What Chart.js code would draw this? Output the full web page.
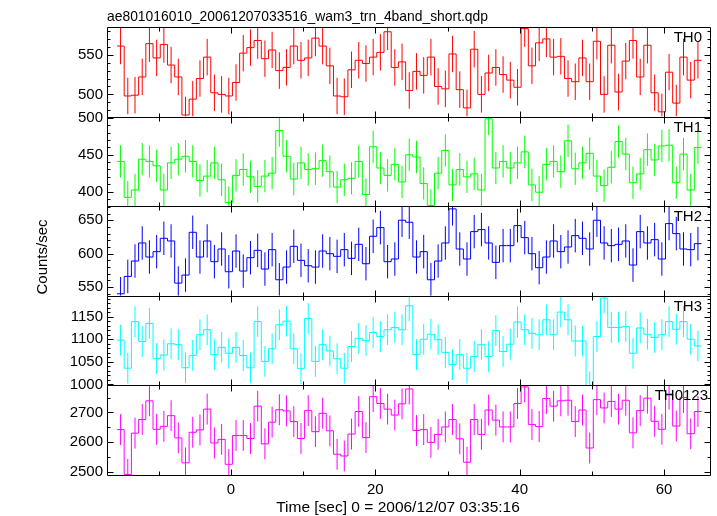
<!DOCTYPE html>
<html>
<head>
<meta charset="utf-8">
<title>ae801016010 WAM light curve</title>
<script src="https://cdn.jsdelivr.net/npm/chart.js@4.4.1/dist/chart.umd.min.js"></script>
<style>
  html, body { margin: 0; padding: 0; background: #fff; }
  #wrap { width: 717px; height: 516px; }
</style>
</head>
<body>
<div id="wrap"><canvas id="lcChart" width="717" height="516"></canvas></div>
<script>
// Light curve data (1 sec bins)

// bin start times [sec]
const binStarts = [-15.8,-14.8,-13.8,-12.8,-11.8,-10.8,-9.8,-8.8,-7.8,-6.8,-5.8,-4.8,-3.8,-2.8,-1.8,-0.8,
  0.2,1.2,2.2,3.2,4.2,5.2,6.2,7.2,8.2,9.2,10.2,11.2,12.2,13.2,14.2,15.2,16.2,17.2,18.2,19.2,
  20.2,21.2,22.2,23.2,24.2,25.2,26.2,27.2,28.2,29.2,30.2,31.2,32.2,33.2,34.2,35.2,36.2,37.2,38.2,39.2,
  40.2,41.2,42.2,43.2,44.2,45.2,46.2,47.2,48.2,49.2,50.2,51.2,52.2,53.2,54.2,55.2,56.2,57.2,58.2,59.2,
  60.2,61.2,62.2,63.2,64.2];
const binWidth = 1.0;

// counts/sec per band
const th0Rate = [561,498,499,522,564,546,563,537,522,474,494,520,547,502,500,498,515,552,559,568,
  545,556,530,534,561,543,546,571,561,536,498,497,531,543,539,547,553,579,534,541,
  505,529,524,547,510,507,551,506,483,557,500,527,534,525,518,509,583,536,565,570,
  547,548,520,516,546,516,567,500,562,503,542,568,522,562,502,478,528,489,547,518,543];
const th1Rate = [441,392,402,444,441,435,402,439,444,448,441,415,421,439,416,385,422,430,420,407,
  421,425,483,448,417,439,430,431,442,427,406,416,418,441,396,461,432,422,437,413,
  450,447,411,381,425,456,409,430,420,424,402,499,432,441,432,439,454,409,399,437,
  441,427,469,431,439,452,421,408,433,468,451,412,424,457,443,462,463,412,451,402,460];
const th2Rate = [540,566,589,616,595,603,623,619,556,568,632,595,619,588,607,573,604,574,594,605,
  577,606,561,580,611,590,582,580,604,600,596,606,593,614,585,626,639,588,592,650,
  647,595,603,561,589,616,667,607,592,633,636,616,587,612,612,642,624,600,579,595,
  619,603,610,627,623,607,650,616,612,614,619,583,633,616,621,592,645,630,607,606,615];
const th3Rate = [1098,1036,1139,1095,1135,1057,1065,1090,1088,1037,1064,1110,1121,1066,1082,1069,1082,1064,1037,1139,
  1051,1079,1132,1140,1079,1035,1146,1051,1088,1074,1057,1036,1084,1102,1097,1115,1106,1121,1126,1121,
  1174,1066,1100,1111,1099,1071,1044,1066,1036,1062,1088,1062,1119,1073,1089,1138,1121,1113,1110,1143,
  1110,1160,1143,1096,1096,995,1106,1191,1126,1126,1128,1069,1125,1111,1104,1110,1139,1122,1139,1100,1085];
const th0123Rate = [2642,2491,2630,2676,2739,2643,2653,2689,2614,2530,2633,2641,2711,2597,2609,2525,2622,2622,2612,2721,
  2594,2667,2709,2705,2669,2612,2706,2635,2697,2638,2559,2553,2627,2703,2615,2753,2730,2711,2691,2729,
  2779,2639,2642,2599,2626,2651,2676,2611,2532,2676,2626,2708,2674,2651,2651,2730,2786,2659,2652,2747,
  2721,2739,2741,2669,2708,2580,2743,2715,2737,2711,2741,2631,2706,2748,2670,2643,2762,2654,2750,2628,2703];

// typical 1-sigma error bar half length per band
const th0Err = 23;
const th1Err = 22;
const th2Err = 25;
const th3Err = 34;
const th0123Err = 52;

// tick labels
const xTickLabels = [0, 20, 40, 60];
const xTickMarks = [-10, 0, 10, 20, 30, 40, 50, 60];
const th0Ticks = [500, 550];
const th1Ticks = [400, 450, 500];
const th2Ticks = [550, 600, 650];
const th3Ticks = [1000, 1050, 1100, 1150];
const th0123Ticks = [2500, 2600, 2700];

const FONT = '"Liberation Sans", Arial, Helvetica, sans-serif';

// bottom panel first: stacked axes are placed bottom -> top
const panels = [
  { id: 'y4', label: 'TH0123', rate: th0123Rate, err: th0123Err, ticks: th0123Ticks, color: '#ff00ff', min: 2489, max: 2791, minor: 50, labelRight: 708 },
  { id: 'y3', label: 'TH3', rate: th3Rate, err: th3Err, ticks: th3Ticks, color: '#00ffff', min: 998, max: 1196, minor: 10, labelRight: 702 },
  { id: 'y2', label: 'TH2', rate: th2Rate, err: th2Err, ticks: th2Ticks, color: '#0000ff', min: 537, max: 671, minor: 10, labelRight: 702 },
  { id: 'y1', label: 'TH1', rate: th1Rate, err: th1Err, ticks: th1Ticks, color: '#00ff00', min: 380, max: 502, minor: 10, labelRight: 702 },
  { id: 'y0', label: 'TH0', rate: th0Rate, err: th0Err, ticks: th0Ticks, color: '#ff0000', min: 472, max: 585, minor: 10, labelRight: 702 }
];

function stepPoints(values) {
  const pts = binStarts.map((t, i) => ({ x: t, y: values[i] }));
  pts.push({ x: binStarts[binStarts.length - 1] + binWidth, y: values[values.length - 1] });
  return pts;
}

function errorPoints(values, err) {
  const pts = [];
  binStarts.forEach((t, i) => {
    const c = t + binWidth / 2;
    pts.push({ x: c, y: values[i] - err }, { x: c, y: values[i] + err }, { x: c, y: null });
  });
  return pts;
}

const datasets = [];
const scales = {
  x: {
    type: 'linear',
    position: 'bottom',
    min: -17.18,
    max: 66.37,
    afterBuildTicks: s => { s.ticks = xTickLabels.map(v => ({ value: v })); },
    afterFit: s => { s.height = 41; },
    grid: { display: false, drawTicks: false },
    border: { display: false },
    ticks: { color: '#000', font: { family: FONT, size: 15 }, padding: 6, maxRotation: 0, autoSkip: false,
             callback: v => String(v) },
    title: { display: false }
  }
};

panels.forEach(p => {
  datasets.push({
    label: p.label,
    data: stepPoints(p.rate),
    yAxisID: p.id,
    stepped: true,
    borderColor: p.color,
    borderWidth: 1,
    pointRadius: 0,
    fill: false
  });
  datasets.push({
    label: p.label + ' err',
    data: errorPoints(p.rate, p.err),
    yAxisID: p.id,
    borderColor: p.color,
    borderWidth: 1,
    pointRadius: 0,
    spanGaps: false,
    fill: false
  });
  scales[p.id] = {
    type: 'linear',
    position: 'left',
    stack: 'bands',
    stackWeight: 1,
    min: p.min,
    max: p.max,
    afterBuildTicks: s => { s.ticks = p.ticks.map(v => ({ value: v })); },
    afterFit: s => { s.width = 107; },
    grid: { display: false, drawTicks: false },
    border: { display: false },
    ticks: { color: '#000', font: { family: FONT, size: 15 }, padding: 4, autoSkip: false,
             callback: v => String(v) }
  };
});

// qdp style frame: boxed panels, inward ticks, band labels, titles
const qdpFrame = {
  id: 'qdpFrame',
  beforeDatasetDraw(chart, args) {
    const area = chart.chartArea;
    const ys = args.meta.yScale;
    const ctx = chart.ctx;
    ctx.save();
    ctx.beginPath();
    ctx.rect(area.left, ys.top, area.right - area.left, ys.bottom - ys.top);
    ctx.clip();
  },
  afterDatasetDraw(chart) {
    chart.ctx.restore();
  },
  afterDraw(chart) {
    const ctx = chart.ctx;
    const area = chart.chartArea;
    const xs = chart.scales.x;
    const left = Math.round(area.left) + 0.5;
    const right = Math.round(area.right) + 0.5;
    const seg = (x1, y1, x2, y2) => { ctx.moveTo(x1, y1); ctx.lineTo(x2, y2); };

    ctx.save();
    ctx.strokeStyle = '#000';
    ctx.lineWidth = 1;
    panels.forEach(p => {
      const ys = chart.scales[p.id];
      const top = Math.round(ys.top) + 0.5;
      const bottom = Math.round(ys.bottom) + 0.5;
      ctx.beginPath();
      ctx.rect(left, top, right - left, bottom - top);
      xTickMarks.forEach(v => {
        const x = Math.round(xs.getPixelForValue(v)) + 0.5;
        const len = v % 20 === 0 ? 6 : 4;
        seg(x, top, x, top + len);
        seg(x, bottom, x, bottom - len);
      });
      for (let v = Math.ceil(ys.min / p.minor) * p.minor; v <= ys.max; v += p.minor) {
        const y = Math.round(ys.getPixelForValue(v)) + 0.5;
        const len = p.ticks.includes(v) ? 6 : 3;
        seg(left, y, left + len, y);
        seg(right, y, right - len, y);
      }
      ctx.stroke();

      ctx.fillStyle = '#000';
      ctx.font = '15px ' + FONT;
      ctx.textAlign = 'right';
      ctx.textBaseline = 'alphabetic';
      ctx.fillText(p.label, p.labelRight, ys.top + 15);
    });

    ctx.fillStyle = '#000';
    ctx.font = '15px ' + FONT;
    ctx.textAlign = 'left';
    ctx.textBaseline = 'alphabetic';
    ctx.fillText('ae801016010_20061207033516_wam3_trn_4band_short.qdp', left - 0.5, 21, 381);

    ctx.font = '15.5px ' + FONT;
    ctx.textAlign = 'center';
    ctx.fillText('Time [sec] 0 = 2006/12/07 03:35:16', 398, 512);

    ctx.font = '15px ' + FONT;
    ctx.translate(43, (area.top + area.bottom) / 2 + 6);
    ctx.rotate(-Math.PI / 2);
    ctx.textBaseline = 'middle';
    ctx.fillText('Counts/sec', 0, 0);
    ctx.restore();
  }
};

new Chart(document.getElementById('lcChart').getContext('2d'), {
  type: 'line',
  data: { datasets: datasets },
  options: {
    responsive: false,
    animation: false,
    layout: { padding: { top: 27, right: 7, left: 0, bottom: 0 } },
    plugins: {
      legend: { display: false },
      title: { display: false },
      tooltip: { enabled: false }
    },
    scales: scales
  },
  plugins: [qdpFrame]
});
</script>
</body>
</html>
